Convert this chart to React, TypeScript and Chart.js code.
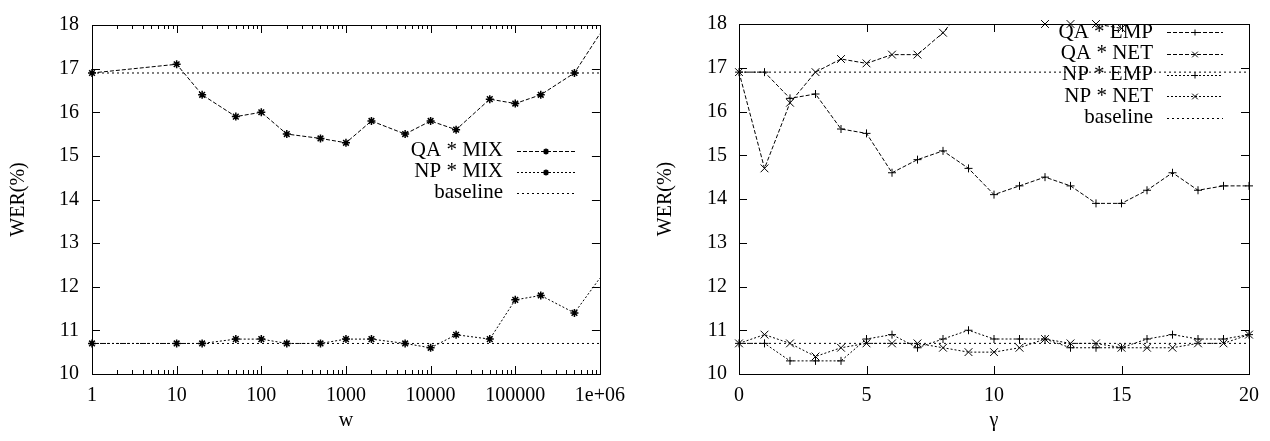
import React, { useEffect, useRef } from "react";
import { Chart, registerables } from "chart.js";

Chart.register(...registerables);

// ---------- data: left panel (w, log scale) ----------
const wValues = [1, 10, 20, 50, 100, 200, 500, 1000, 2000, 5000, 10000, 20000, 50000, 100000, 200000, 500000, 1000000];
const qaMix = [16.9, 17.1, 16.4, 15.9, 16.0, 15.5, 15.4, 15.3, 15.8, 15.5, 15.8, 15.6, 16.3, 16.2, 16.4, 16.9, 17.8];
const npMix = [10.7, 10.7, 10.7, 10.8, 10.8, 10.7, 10.7, 10.8, 10.8, 10.7, 10.6, 10.9, 10.8, 11.7, 11.8, 11.4, 12.2];
const wTicks = [1, 10, 100, 1000, 10000, 100000, 1000000];
const wTickLabels = ["1", "10", "100", "1000", "10000", "100000", "1e+06"];

// ---------- data: right panel (gamma) ----------
const gammaValues = [0, 1, 2, 3, 4, 5, 6, 7, 8, 9, 10, 11, 12, 13, 14, 15, 16, 17, 18, 19, 20];
const qaEmp = [16.9, 16.9, 16.3, 16.4, 15.6, 15.5, 14.6, 14.9, 15.1, 14.7, 14.1, 14.3, 14.5, 14.3, 13.9, 13.9, 14.2, 14.6, 14.2, 14.3, 14.3];
const qaNet = [16.9, 14.7, 16.2, 16.9, 17.2, 17.1, 17.3, 17.3, 17.8, 18.5, null, null, 18.0, 18.0, 18.0, 17.9, null, null, null, null, null];
const npEmp = [10.7, 10.7, 10.3, 10.3, 10.3, 10.8, 10.9, 10.6, 10.8, 11.0, 10.8, 10.8, 10.8, 10.6, 10.6, 10.6, 10.8, 10.9, 10.8, 10.8, 10.9];
const npNet = [10.7, 10.9, 10.7, 10.4, 10.6, 10.7, 10.7, 10.7, 10.6, 10.5, 10.5, 10.6, 10.8, 10.7, 10.7, 10.6, 10.6, 10.6, 10.7, 10.7, 10.9];
const gammaTicks = [0, 5, 10, 15, 20];

// ---------- shared ----------
const yTicks = [10, 11, 12, 13, 14, 15, 16, 17, 18];
const baselineQA = 16.9;
const baselineNP = 10.7;
const yTitle = "WER(%)";

const FONT = '"Liberation Serif", "Times New Roman", serif';
Chart.defaults.font.family = FONT;
Chart.defaults.font.size = 20;
Chart.defaults.color = "#000";

const DASH_QA = [4, 2];
const DASH_NP = [2, 2];
const DASH_BASE = [2, 3];

function drawMarker(ctx: CanvasRenderingContext2D, style: string, x: number, y: number, r: number) {
  ctx.beginPath();
  if (style === "cross" || style === "star") {
    ctx.moveTo(x - r, y); ctx.lineTo(x + r, y);
    ctx.moveTo(x, y - r); ctx.lineTo(x, y + r);
  }
  if (style === "crossRot" || style === "star") {
    const d = r * Math.SQRT1_2;
    ctx.moveTo(x - d, y - d); ctx.lineTo(x + d, y + d);
    ctx.moveTo(x + d, y - d); ctx.lineTo(x - d, y + d);
  }
  ctx.stroke();
}

const framePlugin = {
  id: "frame",
  beforeDatasetsDraw(chart: any, _args: any, opts: any) {
    const { ctx, chartArea: a, scales } = chart;
    const px = (v: number) => Math.round(v) + 0.5;
    ctx.save();
    ctx.strokeStyle = "#000";
    ctx.lineWidth = 1;
    ctx.setLineDash([]);
    ctx.beginPath();
    const L = 8, l = 4;
    for (const v of opts.xMajor) {
      const x = px(scales.x.getPixelForValue(v));
      ctx.moveTo(x, a.bottom); ctx.lineTo(x, a.bottom - L);
      ctx.moveTo(x, a.top); ctx.lineTo(x, a.top + L);
    }
    for (const v of opts.xMinor) {
      const x = px(scales.x.getPixelForValue(v));
      ctx.moveTo(x, a.bottom); ctx.lineTo(x, a.bottom - l);
      ctx.moveTo(x, a.top); ctx.lineTo(x, a.top + l);
    }
    for (const v of opts.yMajor) {
      const y = px(scales.y.getPixelForValue(v));
      ctx.moveTo(a.left, y); ctx.lineTo(a.left + L, y);
      ctx.moveTo(a.right, y); ctx.lineTo(a.right - L, y);
    }
    ctx.stroke();
    ctx.strokeRect(px(a.left), px(a.top), Math.round(a.right - a.left), Math.round(a.bottom - a.top));
    ctx.restore();
  },
};

const keyPlugin = {
  id: "key",
  afterDraw(chart: any, _args: any, opts: any) {
    const { ctx } = chart;
    const entries = chart.data.datasets.filter((d: any) => d.inKey);
    ctx.save();
    ctx.font = `${opts.fontSize}px ${FONT}`;
    ctx.fillStyle = "#000";
    ctx.strokeStyle = "#000";
    ctx.lineWidth = 1;
    ctx.textAlign = "right";
    ctx.textBaseline = "middle";
    entries.forEach((d: any, i: number) => {
      const y = opts.top + i * opts.rowH;
      ctx.fillText(d.label, opts.textRight, y);
      ctx.setLineDash(d.borderDash || []);
      ctx.beginPath();
      const yy = Math.round(y) + 0.5;
      ctx.moveTo(opts.sampleLeft, yy);
      ctx.lineTo(opts.sampleRight, yy);
      ctx.stroke();
      ctx.setLineDash([]);
      if (d.keyStyle) {
        ctx.lineWidth = d.keyStyle === "star" ? 1.5 : 1;
        drawMarker(ctx, d.keyStyle, (opts.sampleLeft + opts.sampleRight) / 2, yy, d.keyStyle === "crossRot" ? 4 : 3);
        ctx.lineWidth = 1;
      }
    });
    ctx.restore();
  },
};

function series(label: string, xs: number[], ys: (number | null)[], dash: number[], style: string | false, radius: number | number[], extra: any = {}) {
  return {
    label,
    data: xs.map((x, i) => ({ x, y: ys[i] })),
    borderColor: "#000",
    backgroundColor: "#000",
    borderWidth: 1,
    borderDash: dash,
    pointStyle: style || "circle",
    pointRadius: style ? radius : 0,
    pointHoverRadius: style ? radius : 0,
    pointBorderColor: "#000",
    pointBackgroundColor: "#000",
    pointBorderWidth: style === "star" ? 1.5 : 1,
    tension: 0,
    fill: false,
    clip: false,
    inKey: true,
    keyStyle: style,
    ...extra,
  };
}

function yScale(width: number, titlePad: number, tickPad: number) {
  return {
    type: "linear",
    min: 10,
    max: 18,
    afterBuildTicks: (s: any) => { s.ticks = yTicks.map((v) => ({ value: v })); },
    afterFit: (s: any) => { s.width = width; },
    grid: { display: false, drawTicks: false },
    border: { display: false },
    ticks: { padding: tickPad, color: "#000", font: { size: 20 } },
    title: { display: true, text: yTitle, color: "#000", font: { size: 20 }, padding: { top: titlePad, bottom: 0 } },
  };
}

function buildLeft(): any {
  const minor: number[] = [];
  for (let k = 0; k < 6; k++) for (let m = 2; m <= 9; m++) minor.push(m * Math.pow(10, k));
  const xMin = wTicks[0], xMax = wTicks[wTicks.length - 1];
  const radii = wValues.map((w) => (w >= xMax ? 0 : 4));
  return {
    type: "line",
    data: {
      datasets: [
        series("QA * MIX", wValues, qaMix, DASH_QA, "star", radii),
        series("NP * MIX", wValues, npMix, DASH_NP, "star", radii),
        series("baseline", [xMin, xMax], [baselineQA, baselineQA], DASH_BASE, false, 0),
        series("", [xMin, xMax], [baselineNP, baselineNP], DASH_BASE, false, 0, { inKey: false }),
      ],
    },
    plugins: [framePlugin, keyPlugin],
    options: {
      responsive: false,
      animation: false,
      devicePixelRatio: 1,
      events: [],
      layout: { padding: { left: 0, right: 33, top: 15, bottom: 0 } },
      plugins: {
        legend: { display: false },
        tooltip: { enabled: false },
        frame: { xMajor: wTicks, xMinor: minor, yMajor: yTicks },
        key: { fontSize: 21, textRight: 503, sampleLeft: 517, sampleRight: 575, top: 150.7, rowH: 21 },
      },
      scales: {
        x: {
          type: "logarithmic",
          min: xMin,
          max: xMax,
          afterBuildTicks: (s: any) => { s.ticks = wTicks.map((v) => ({ value: v })); },
          afterFit: (s: any) => { s.height = 67; },
          grid: { display: false, drawTicks: false },
          border: { display: false },
          ticks: {
            autoSkip: false,
            maxRotation: 0,
            padding: 10,
            color: "#000",
            font: { size: 20 },
            callback: (v: any) => {
              const i = wTicks.indexOf(Number(v));
              return i >= 0 ? wTickLabels[i] : "";
            },
          },
          title: { display: true, text: "w", color: "#000", font: { size: 20 }, padding: { top: 0, bottom: 8 } },
        },
        y: yScale(92, 7, 13),
      },
    },
  };
}

function buildRight(): any {
  const xMin = gammaTicks[0], xMax = gammaTicks[gammaTicks.length - 1];
  const yMax = yTicks[yTicks.length - 1];
  const qaNetMarks = qaNet.map((v) => (v != null && v <= yMax ? v : null));
  return {
    type: "line",
    data: {
      datasets: [
        series("QA * EMP", gammaValues, qaEmp, DASH_QA, "cross", 4),
        series("QA * NET", gammaValues, qaNet, DASH_QA, "crossRot", 0, { clip: undefined, pointRadius: 0, pointHoverRadius: 0 }),
        series("", gammaValues, qaNetMarks, [], "crossRot", 5.5, { showLine: false, inKey: false }),
        series("NP * EMP", gammaValues, npEmp, DASH_NP, "cross", 4),
        series("NP * NET", gammaValues, npNet, DASH_NP, "crossRot", 5.5),
        series("baseline", [xMin, xMax], [baselineQA, baselineQA], DASH_BASE, false, 0),
        series("", [xMin, xMax], [baselineNP, baselineNP], DASH_BASE, false, 0, { inKey: false }),
      ],
    },
    plugins: [framePlugin, keyPlugin],
    options: {
      responsive: false,
      animation: false,
      devicePixelRatio: 1,
      events: [],
      layout: { padding: { left: 0, right: 21, top: 15, bottom: 0 } },
      plugins: {
        legend: { display: false },
        tooltip: { enabled: false },
        frame: { xMajor: gammaTicks, xMinor: [], yMajor: yTicks },
        key: { fontSize: 21, textRight: 518, sampleLeft: 532, sampleRight: 588, top: 32.3, rowH: 21.3 },
      },
      scales: {
        x: {
          type: "linear",
          min: xMin,
          max: xMax,
          afterBuildTicks: (s: any) => { s.ticks = gammaTicks.map((v) => ({ value: v })); },
          afterFit: (s: any) => { s.height = 67; },
          grid: { display: false, drawTicks: false },
          border: { display: false },
          ticks: { autoSkip: false, maxRotation: 0, padding: 10, color: "#000", font: { size: 20 } },
          title: { display: true, text: "γ", color: "#000", font: { size: 20 }, padding: { top: 0, bottom: 8 } },
        },
        y: yScale(104, 19, 12),
      },
    },
  };
}

export default function App() {
  const leftRef = useRef<HTMLCanvasElement>(null);
  const rightRef = useRef<HTMLCanvasElement>(null);
  useEffect(() => {
    const c1 = new Chart(leftRef.current as HTMLCanvasElement, buildLeft());
    const c2 = new Chart(rightRef.current as HTMLCanvasElement, buildRight());
    return () => {
      c1.destroy();
      c2.destroy();
    };
  }, []);
  return (
    <div style={{ position: "fixed", left: 0, top: 0, width: 1270, height: 441, background: "#fff" }}>
      <canvas ref={leftRef} width={635} height={441} style={{ position: "absolute", left: 0, top: 0, width: 635, height: 441 }} />
      <canvas ref={rightRef} width={635} height={441} style={{ position: "absolute", left: 635, top: 0, width: 635, height: 441 }} />
    </div>
  );
}
